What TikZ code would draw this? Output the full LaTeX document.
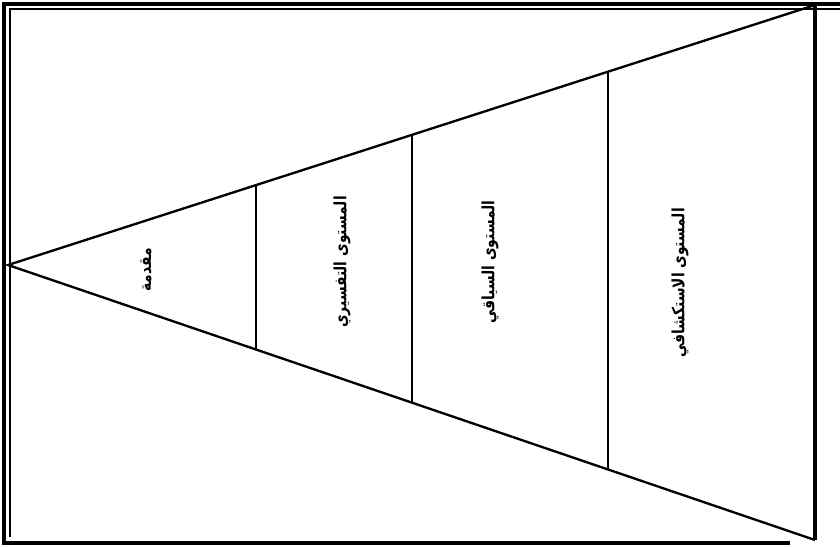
\documentclass[tikz,border=0pt]{standalone}
\usepackage{fontspec}
\usetikzlibrary{positioning,calc}
\newfontfamily\arabicfont[Script=Arabic]{DejaVu Sans}
\TeXXeTstate=1
\tikzset{
  frameline/.style={draw=black, line width=2.6pt},
  frameinner/.style={draw=black, line width=1.5pt},
  edge/.style={draw=black, line width=2pt},
  divider/.style={draw=black, line width=2.3pt},
  levellabel/.style={rotate=90, xscale=0.82, font=\arabicfont\bfseries\Large, inner sep=2pt}}
\begin{document}
\begin{tikzpicture}[x=0.03cm, y=-0.03cm]
    \useasboundingbox (0,0) rectangle (840,546);
    % double frame
    \draw[frameline] (850,4) -- (4,4) -- (4,543) -- (790,543);
    \draw[frameinner] (850,9) -- (10,9) -- (10,537);
    % triangle
    \coordinate (apex) at (8,265);
    \coordinate (tr) at (815,5);
    \coordinate (br) at (815,540);
    \draw[edge] (tr) -- (apex) -- (br);
    \draw[draw=black, line width=3.8pt] (tr) -- (br);
    % dividers
    \coordinate (d1t) at ($(apex)!0.3073!(tr)$);
    \coordinate (d1b) at ($(apex)!0.3073!(br)$);
    \coordinate (d2t) at ($(apex)!0.5006!(tr)$);
    \coordinate (d2b) at ($(apex)!0.5006!(br)$);
    \coordinate (d3t) at ($(apex)!0.7435!(tr)$);
    \coordinate (d3b) at ($(apex)!0.7435!(br)$);
    \draw[divider] (d1t) -- (d1b);
    \draw[divider] (d2t) -- (d2b);
    \draw[divider] (d3t) -- (d3b);
    % labels
    \node[levellabel] (intro) at (146,270) {\beginR مقدمة\endR};
    \node[levellabel] (interp) at (342,262) {\beginR المستوى التفسيري\endR};
    \node[levellabel] (context) at (490,262) {\beginR المستوى السياقي\endR};
    \node[levellabel] (explore) at (680,283) {\beginR المستوى الاستكشافي\endR};
  \end{tikzpicture}
\end{document}
